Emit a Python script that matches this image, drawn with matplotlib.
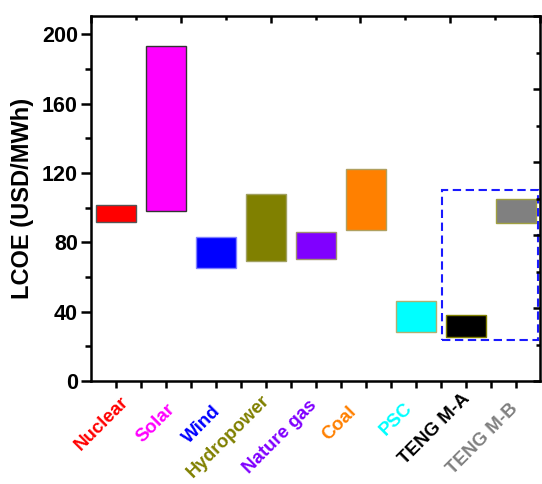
import matplotlib
matplotlib.use("Agg")
import matplotlib.pyplot as plt
from matplotlib.patches import Rectangle
from matplotlib.ticker import MultipleLocator
import matplotlib.transforms as mtransforms

categories = ["Nuclear", "Solar", "Wind", "Hydropower", "Nature gas",
              "Coal", "PSC", "TENG M-A", "TENG M-B"]
low_values = [91.7, 98.2, 65.2, 69.2, 70.2, 86.9, 28.3, 25.6, 91.3]
high_values = [101.4, 193.1, 83.2, 108.0, 86.0, 122.3, 46.0, 37.9, 105.2]
bar_colors = ["#ff0000", "#ff00ff", "#0000ff", "#808000", "#8000ff",
              "#ff8000", "#00ffff", "#000000", "#808080"]
edge_colors = ["#555555", "#333333", "#8080ff", "#a0a060", "#a09070",
               "#b0a060", "#b0b070", "#808000", "#a0a040"]
highlight_x = (7.51, 9.43)
highlight_y = (23.7, 110.2)

# label placement (pixel offsets of each rotated label's top-right anchor from its tick)
label_dx = [3.8, 0.7, -4.2, -5.5, -8.2, -17.9, -12.3, -5.0, -7.3]
label_dy = [12.5, 19.2, 22.0, 10.9, 15.9, 22.0, 19.0, 9.8, 19.1]

plt.rcParams['font.family'] = ['Liberation Sans', 'DejaVu Sans']
plt.rcParams['font.weight'] = 'bold'

fig = plt.figure(figsize=(5.42, 4.84), dpi=100)
pos = [91/542, 1 - 381/484, (540 - 91)/542, (381 - 16)/484]
ax = fig.add_axes(pos)

xs = list(range(1, len(categories) + 1))
heights = [h - l for h, l in zip(high_values, low_values)]
ax.bar(xs, heights, bottom=low_values, width=0.8, color=bar_colors,
       edgecolor=edge_colors, linewidth=1.0, zorder=2)

ax.add_patch(Rectangle((highlight_x[0], highlight_y[0]),
                       highlight_x[1] - highlight_x[0],
                       highlight_y[1] - highlight_y[0],
                       fill=False, edgecolor="#1a1aff", linewidth=1.5,
                       linestyle=(0, (4, 2.2)), zorder=3))

ax.set_xlim(0.507, 9.47)
ax.set_ylim(0, 210.6)
ax.yaxis.set_major_locator(MultipleLocator(40))
ax.yaxis.set_minor_locator(MultipleLocator(20))
ax.set_xticks(xs)
ax.xaxis.set_minor_locator(MultipleLocator(0.5))
ax.tick_params(axis='x', labelbottom=False)
ax.tick_params(axis='y', which='major', direction='out', length=7.5, width=1.8,
               labelsize=15.5, pad=2)
ax.tick_params(axis='y', which='minor', direction='out', length=4, width=1.8)
ax.tick_params(axis='x', which='major', direction='out', length=5, width=1.8)
ax.tick_params(axis='x', which='minor', direction='out', length=5, width=1.8)

base = ax.get_xaxis_transform()
for x, name, c, dx, dy in zip(xs, categories, bar_colors, label_dx, label_dy):
    tr = mtransforms.offset_copy(base, fig=fig, x=dx, y=-dy, units='dots')
    ax.text(x, 0, name, transform=tr, color=c, rotation=45,
            ha='right', va='top', rotation_mode='anchor',
            fontsize=13.5, fontweight='bold', clip_on=False)

for s in ax.spines.values():
    s.set_linewidth(1.8)

ax.set_ylabel("LCOE (USD/MWh)", fontsize=17, fontweight='bold')
ax.yaxis.set_label_coords((34.3 - 91) / 449, 0.5)

ax2 = fig.add_axes(pos, frameon=False)
ax2.set_xlim(0, 10)
ax2.set_ylim(0, 10)
ax2.xaxis.set_major_locator(MultipleLocator(2))
ax2.xaxis.set_minor_locator(MultipleLocator(1))
ax2.yaxis.set_major_locator(MultipleLocator(2))
ax2.yaxis.set_minor_locator(MultipleLocator(1))
ax2.tick_params(which='both', direction='in', top=True, right=True,
                bottom=False, left=False, labeltop=False, labelright=False,
                labelbottom=False, labelleft=False, width=1.8)
ax2.tick_params(which='major', length=5)
ax2.tick_params(which='minor', length=3)
ax2.patch.set_visible(False)

fig.savefig("out.png", dpi=100)
